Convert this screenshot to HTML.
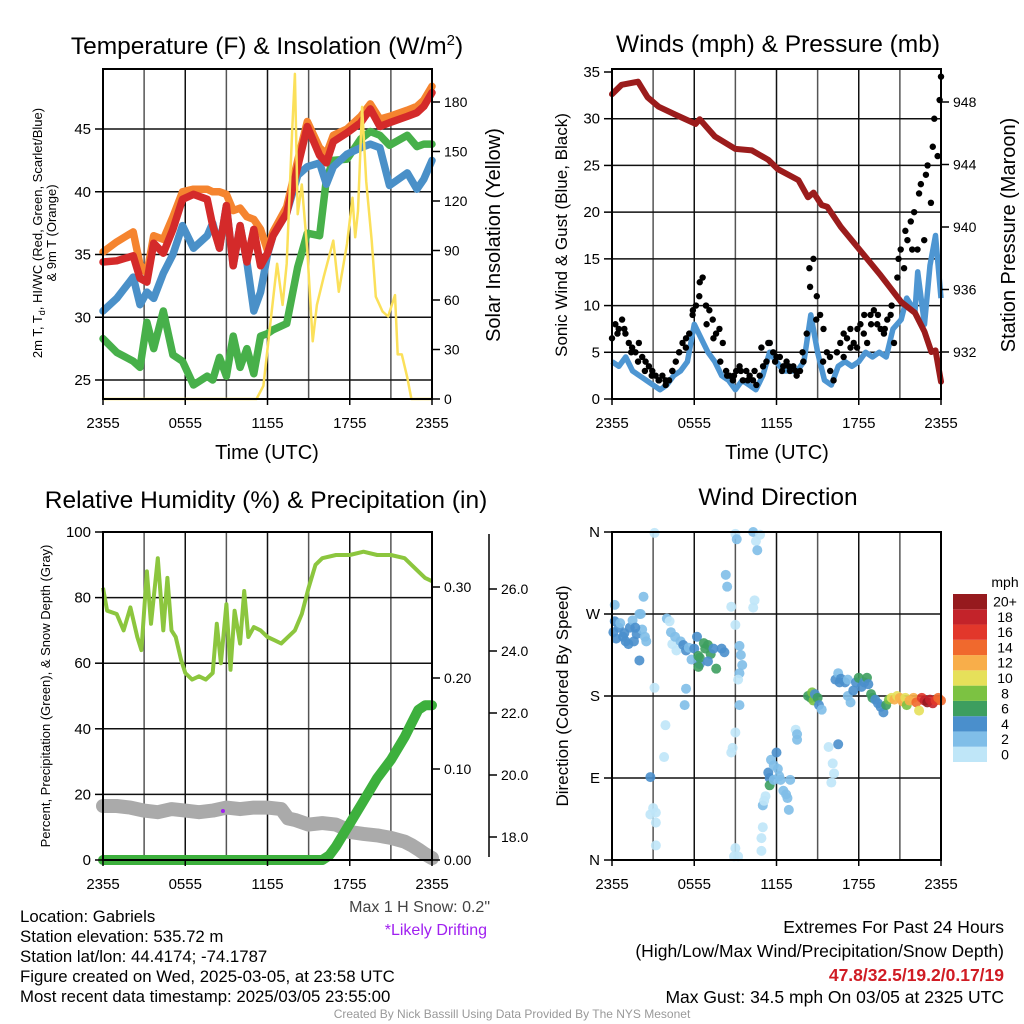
<!DOCTYPE html>
<html><head><meta charset="utf-8"><style>
body{margin:0;background:#fff}
svg{display:block;font-family:"Liberation Sans",Arial,sans-serif}
</style></head><body>
<svg id="s" width="1024" height="1024" viewBox="0 0 1024 1024" xmlns="http://www.w3.org/2000/svg">
<rect width="1024" height="1024" fill="#fff"/>
<g id="grid"></g><g id="marks"></g><g id="axes"></g>
<g id="txt" fill="#000">
<text x="267" y="54" font-size="24.5" text-anchor="middle">Temperature (F) &amp; Insolation (W/m<tspan font-size="15" dy="-9">2</tspan><tspan dy="9">)</tspan></text>
<text x="778" y="52" font-size="24.5" text-anchor="middle">Winds (mph) &amp; Pressure (mb)</text>
<text x="266" y="508" font-size="24.5" text-anchor="middle">Relative Humidity (%) &amp; Precipitation (in)</text>
<text x="778" y="505" font-size="24.5" text-anchor="middle">Wind Direction</text>
<text transform="translate(42,233) rotate(-90)" font-size="13" text-anchor="middle">2m T, T<tspan font-size="9" dy="3">d</tspan><tspan dy="-3">, HI/WC (Red, Green, Scarlet/Blue)</tspan></text>
<text transform="translate(56,233) rotate(-90)" font-size="13" text-anchor="middle">&amp; 9m T (Orange)</text>
<text transform="translate(500,235) rotate(-90)" font-size="20" text-anchor="middle">Solar Insolation (Yellow)</text>
<text transform="translate(567,235) rotate(-90)" font-size="17" text-anchor="middle">Sonic Wind &amp; Gust (Blue, Black)</text>
<text transform="translate(1015,235) rotate(-90)" font-size="20" text-anchor="middle">Station Pressure (Maroon)</text>
<text transform="translate(50,696) rotate(-90)" font-size="13" text-anchor="middle">Percent, Precipitation (Green), &amp; Snow Depth (Gray)</text>
<text transform="translate(568,696) rotate(-90)" font-size="17" text-anchor="middle">Direction (Colored By Speed)</text>
<text x="267" y="459" font-size="20" text-anchor="middle">Time (UTC)</text>
<text x="777" y="459" font-size="20" text-anchor="middle">Time (UTC)</text>
<text x="490" y="912" font-size="16" fill="#444" text-anchor="end">Max 1 H Snow: 0.2"</text>
<text x="487" y="935" font-size="16" fill="#a020f0" text-anchor="end">*Likely Drifting</text>
<g font-size="16.8">
<text x="20" y="922">Location: Gabriels</text>
<text x="20" y="942">Station elevation: 535.72 m</text>
<text x="20" y="962">Station lat/lon: 44.4174; -74.1787</text>
<text x="20" y="982">Figure created on Wed, 2025-03-05, at 23:58 UTC</text>
<text x="20" y="1002">Most recent data timestamp: 2025/03/05 23:55:00</text>
</g>
<g font-size="17.5" text-anchor="end">
<text x="1004" y="933">Extremes For Past 24 Hours</text>
<text x="1004" y="957">(High/Low/Max Wind/Precipitation/Snow Depth)</text>
<text x="1004" y="981" fill="#d01c24" font-weight="bold">47.8/32.5/19.2/0.17/19</text>
<text x="1004" y="1003">Max Gust: 34.5 mph On 03/05 at 2325 UTC</text>
</g>
<text x="512" y="1018" font-size="12" fill="#999" text-anchor="middle">Created By Nick Bassill Using Data Provided By The NYS Mesonet</text>
<text x="1005" y="587" font-size="14" text-anchor="middle">mph</text>
</g>
</svg>
<script>
// ---- data ----
const xTickLabels = ["2355","0555","1155","1755","2355"];
const tempTicks = [25,30,35,40,45];
const solarTicks = [0,30,60,90,120,150,180];
const windTicks = [0,5,10,15,20,25,30,35];
const presTicks = [932,936,940,944,948];
const rhTicks = [0,20,40,60,80,100];
const precipTicks = [0.00,0.10,0.20,0.30];
const snowTicks = [18,20,22,24,26];
const dirTicks = ["N","E","S","W","N"];
const speedBins = ["0","2","4","6","8","10","12","14","16","18","20+"];
const speedColors = ["#bfe6f8","#80bee8","#4a8fcc","#3d9e5f","#7cc242","#e6e05a","#f8ae4a","#f0692d","#e2372b","#c3232a","#961a1e"];

const tT = [0,1,2.2,2.7,3.2,3.7,4.4,5.1,5.8,6.6,7.6,8.0,8.5,9.0,9.5,10.0,10.5,11.0,11.5,12.0,12.4,13.4,14.2,14.9,15.8,16.3,16.8,17.8,18.8,19.5,20.2,20.9,22.2,22.9,23.4,24];
const tRed = [34.4,34.5,34.9,33.1,32.8,35.9,35.1,37,39.4,39.8,39.4,37.3,35.5,38.9,34.1,37.3,34.4,37,34.1,35.1,36.5,38.3,42,45.2,42.9,42.3,44,44.7,45.5,46.6,45.2,45.5,46,46.3,46.8,47.9];
const tOrange = [35.2,36,36.8,34.2,33.5,36.5,36.2,38,40,40.2,40.2,40,40,39.8,38.5,38.7,38,37.8,37,35.3,36.8,38.8,42.5,45.6,43.5,43,44.5,45,46,47,45.8,46,46.5,46.8,47.3,48.4];
const tBlue = [30.5,31.5,33.2,31,32,31.5,33.5,35,37.3,35.5,36.5,37.5,35.5,38.9,34.1,37.3,34.4,30.5,32,35,36.5,38.3,41.3,42,42.3,40.6,42,43,43.5,43.8,43.5,40.5,41.5,40.2,41,42.5];
const tGreen = [28.3,27.2,26.5,26,29.6,27.5,30.5,27,26.5,24.6,25.3,25,26.8,25.3,28.5,26,27.5,25.5,28.5,28.7,29,29.5,34,36.7,36.5,41,42.5,42.6,44.2,44.8,44.5,43.7,44.5,43.6,43.8,43.8];
const solT = [0,11.2,11.7,12.2,12.7,13.1,13.4,13.8,14.0,14.2,14.5,14.9,15.3,15.6,16.1,16.8,17.2,17.8,18.2,18.4,18.6,18.9,19.2,19.6,19.9,20.4,20.8,21.3,21.5,21.8,22.2,22.5,24];
const solar = [0,0,8,45,82,57,82,163,197,112,130,90,35,57,74,96,65,94,122,98,114,177,132,96,62,53,50,63,27,27,13,0,0];

const presT = [0,0.7,1.9,2.6,3.4,4.6,6.1,6.4,7.5,9.0,10.2,11.4,12.1,13.6,14.3,14.7,15.3,15.7,16.7,18.2,19.6,21.1,22.1,22.8,23.3,23.6,24];
const pressure = [948.5,949.1,949.3,948.3,947.7,947.2,946.6,946.9,945.8,945,944.9,944.3,943.7,943.0,941.9,942.2,941.4,941.3,940,938.4,936.9,935.2,934.5,933.3,932,932.1,930.1];
const windT = [0,0.5,1,1.5,2,2.5,3,3.5,4,4.5,5,5.5,6,6.5,7,7.5,8,8.5,9,9.5,10,10.5,11,11.5,12,12.5,13,13.5,14,14.5,15,15.5,16,16.5,17,17.5,18,18.5,19,19.5,20,20.5,21.1,21.5,22.1,22.3,22.8,23.2,23.6,24];
const wind = [4,3.5,4.5,3,2.5,2,1.5,1,1.5,2.5,3,4,8,6.5,5,4,2.5,2,1,2,1.5,1,2.5,5,4,3,3,3,4,9,5,2,1.5,3.5,4,3.5,4,5,4.5,5,4.5,7.5,8.5,10.8,9.4,13.6,8,14.3,17.5,10.8];
const gust = [6.5,8,7.5,8.5,7,6,5.5,5,6,4.5,4,3.5,3,2.5,2,2.5,1.5,2,3,4,5,6,5.5,7,9,10,11,13,10,9.5,8.5,7,7.5,6,3,2.5,2,3,3.5,2,3,2.5,2,1.5,2.5,3.5,4,6,5,4.5,4.5,3.5,4,3,3.5,2.5,3,4,7,12,15,11,9,7.5,5,3,2,5,6,4.5,6.5,7.5,6,5.5,8,7,6,9,9.5,8,7.5,7,8.5,9,6,13,16,14,17,19,20,16,23,17,25,21,30,26,34.5];
const gust2T = [0.4,0.9,1.4,1.9,2.4,2.9,3.4,3.9,4.4,4.9,5.4,5.9,6.4,6.9,7.4,7.9,8.4,8.9,9.4,9.9,10.4,10.9,11.4,11.9,12.4,12.9,13.4,13.9,14.4,14.9,15.4,15.9,16.4,16.9,17.4,17.9,18.4,18.9,19.4,19.9,20.4,20.9,21.4,21.9,22.4,22.9,23.4,23.9];
const gust2 = [7,7.5,5,4,3,2.5,2,2,3,5,6.5,9.5,12.5,8,6.5,4,2.5,2.5,3,2,3,5.5,6,4,3,3.5,3,5,14,8.5,4,4.5,5,7,5.5,7.5,9,8,9,7.5,10,15,18,16,22,24,27,32];

const rhT = [0,0.3,1,1.5,2,2.5,2.8,3.2,3.5,4,4.4,4.7,5,5.3,5.7,6,6.5,7,7.5,8,8.3,8.6,9,9.3,9.6,10,10.3,10.6,11,11.5,12,12.5,13,14,14.5,15,15.5,16,17,18,19,20,21,22,23,23.5,24];
const rh = [83,76,75,70,77,68,64,88,72,92,70,86,70,68,61,57,55,56,55,57,72,60,78,58,76,66,82,68,71,70,68,67,66,70,75,83,90,92,93,93,94,93,93,92,88,86,85];
const precipT = [0,16,16.5,17,18,19,20,21,22,22.5,23,23.5,24];
const precip = [0,0,0.005,0.015,0.04,0.065,0.09,0.11,0.135,0.15,0.165,0.17,0.17];
const snowT = [0,1,2,3,4,5,6,7,8,9,10,11,12,13,13.5,14,15,16,17,17.5,18,19,20,21,22,22.5,23,23.5,24];
const snow = [19.0,19.0,18.95,18.85,18.8,18.9,18.85,18.8,18.85,18.95,18.9,18.95,18.95,18.9,18.6,18.55,18.4,18.45,18.4,18.3,18.16,18.1,18.05,17.97,17.85,17.74,17.6,17.45,17.32];
const driftT = [8.75];
const drift = [18.84];

const dirT = [0.1,0.2,0.3,0.5,0.6,0.8,0.9,1.0,1.2,1.3,1.5,1.6,1.8,2.0,2.2,2.3,2.4,2.5,2.1,1.7,0.2,2.0,3.1,3.9,3.8,2.8,2.8,3.0,3.2,3.2,3.2,3.1,4.0,4.2,4.3,4.4,4.6,4.7,5.0,5.2,5.4,5.6,5.8,6.0,6.2,6.3,6.4,6.7,6.8,7.0,7.2,7.4,7.6,6.4,7.0,8.0,8.2,5.4,5.3,6.3,8.3,8.4,8.7,9.0,9.3,9.4,9.5,9.3,9.2,9.3,9.0,8.8,8.7,9.0,9.1,10.3,10.5,10.6,10.8,9.0,8.9,9.2,10.4,10.3,10.9,11.0,10.9,11.0,11.1,11.2,11.4,11.5,11.5,11.6,11.8,11.8,12.0,12.1,12.2,12.3,12.5,12.7,12.8,12.9,13.0,13.4,13.5,13.5,15.8,16.5,16.1,16.2,16.0,14.3,14.5,14.6,14.7,14.8,15.0,15.1,15.3,16.3,16.5,16.6,16.7,17.0,17.2,17.2,17.4,17.6,17.8,18.0,18.2,18.4,18.6,18.7,18.9,19.0,19.2,19.4,19.6,19.8,20.0,20.2,20.4,20.6,20.8,21.0,21.2,21.4,21.5,21.7,22.0,22.2,22.4,22.6,22.8,23.0,23.2,23.4,23.6,23.8,24.0];
const dirDeg = [250,262,243,255,260,245,249,240,237,255,263,240,248,270,253,289,245,240,270,255,280,219,189,148,113,91,50,57,52,41,16,359,265,262,250,237,245,230,240,236,230,233,220,232,245,224,215,238,232,236,226,232,210,222,218,232,228,188,170,212,313,300,278,258,235,225,214,205,198,170,140,123,118,358,352,360,350,340,357,13,4,4,285,277,24,36,10,60,65,70,96,90,82,110,104,88,118,100,92,88,76,72,68,55,88,143,138,132,124,127,106,95,85,180,178,184,175,182,178,170,165,198,205,195,199,195,198,180,173,186,195,200,190,195,200,193,182,178,176,172,168,162,170,176,178,176,180,178,174,178,170,175,178,173,164,178,175,173,176,172,175,178,175];
const dirSpd = [4,4,5,4,3,4,5,4,5,4,3,4,4,3,3,3,3,3,3,5,3,4,1,1,0,4,0,0,1,1,1,1,2,1,3,1,3,1,3,4,4,3,3,5,4,6,5,6,6,6,6,4,6,7,4,4,4,3,3,6,2,2,0,1,2,2,2,2,1,3,1,1,1,0,3,3,0,2,0,0,0,0,0,0,0,0,1,2,1,0,4,4,6,3,3,3,4,3,3,2,2,3,2,2,2,0,2,2,0,4,0,0,0,6,7,8,8,5,6,4,3,4,2,4,4,4,3,2,2,4,5,6,5,4,6,5,6,6,4,5,4,4,6,8,10,12,11,12,13,10,8,13,12,14,10,16,18,20,18,19,17,14,14];

// ---- helpers ----
const NS="http://www.w3.org/2000/svg";
const G=document.getElementById('grid'),M=document.getElementById('marks'),A=document.getElementById('axes');
function mk(tag,attrs,parent){const e=document.createElementNS(NS,tag);for(const k in attrs)e.setAttribute(k,attrs[k]);parent.appendChild(e);return e;}
function lin(d0,d1,r0,r1){return v=>r0+(v-d0)*(r1-r0)/(d1-d0);}
function path(ts,vs,sx,sy){return ts.map((t,i)=>(i?'L':'M')+sx(t).toFixed(1)+','+sy(vs[i]).toFixed(1)).join('');}

const panels=[{x0:103,x1:432,y0:69,y1:399},{x0:612,x1:941,y0:69,y1:399},{x0:103,x1:432,y0:532,y1:860},{x0:612,x1:941,y0:532,y1:860}];
const sxs=panels.map(p=>lin(0,24,p.x0,p.x1));

panels.forEach((p,pi)=>{
  const sx=sxs[pi];
  for(let h=3;h<24;h+=3){
    const l=mk('line',{x1:sx(h),x2:sx(h),y1:p.y0,y2:p.y1,stroke:h%6?'#555':'#111','stroke-width':1.5},G);
    
    
  }
  const f=mk('rect',{x:p.x0,y:p.y0,width:p.x1-p.x0,height:p.y1-p.y0,fill:'none',stroke:'#000','stroke-width':2},A);
  
  
  xTickLabels.forEach((lab,i)=>{
    const x=sx(i*6);
    mk('line',{x1:x,x2:x,y1:p.y1,y2:p.y1+6,stroke:'#000','stroke-width':1.5},A);
    const t=mk('text',{x:x,y:p.y1+29,'font-size':15,'text-anchor':'middle'},A);
    t.textContent=lab;
    
    
  });
});
function hgrid(p,y,col){const l=mk('line',{x1:p.x0,x2:p.x1,y1:y,y2:y,stroke:col||'#111','stroke-width':1.5},G);}
function ytick(x,y,lab,side,fs,name){
  mk('line',{x1:x,x2:x+(side<0?-8:8),y1:y,y2:y,stroke:'#000','stroke-width':1.5},A);
  const t=mk('text',{x:x+(side<0?-12:12),y:y+5,'font-size':fs||15,'text-anchor':side<0?'end':'start'},A);
  t.textContent=lab;
  
  
}

// ---- panel 1 ----
{const p=panels[0],sx=sxs[0];
 const sy=lin(25,45,380,129), ss=lin(0,180,399,102);
 tempTicks.forEach(v=>{hgrid(p,sy(v));ytick(p.x0,sy(v),v,-1,15,'temp-tick-label');});
 solarTicks.forEach(v=>ytick(p.x1,ss(v),v,1,14,'solar-tick-label'));
 const series=[[tGreen,'#47b04a','dewpoint-line'],[tBlue,'#4a90c8','heat-index-line'],[tOrange,'#f5842f','temp-9m-line'],[tRed,'#d42a2a','temp-2m-line']];
 series.forEach(s=>{const e=mk('path',{d:path(tT,s[0],sx,sy),fill:'none',stroke:s[1],'stroke-width':7.5,'stroke-linejoin':'round','stroke-linecap':'round'},M);
   
   });
 const y=mk('path',{d:path(solT,solar,sx,ss),fill:'none',stroke:'#fbe05a','stroke-width':2.5,'stroke-linejoin':'round'},M);
 
 
}
// ---- panel 2 ----
{const p=panels[1],sx=sxs[1];
 const sy=lin(0,35,399,72), sp=lin(932,948,352,102);
 windTicks.forEach(v=>{if(v>0&&v<35)hgrid(p,sy(v));ytick(p.x0,sy(v),v,-1,15,'wind-tick-label');});
 presTicks.forEach(v=>ytick(p.x1,sp(v),v,1,14,'pressure-tick-label'));
 const w=mk('path',{d:path(windT,wind,sx,sy),fill:'none',stroke:'#4e96d2','stroke-width':5.5,'stroke-linejoin':'round'},M);
 
 
 gust.forEach((g,i)=>{const c=mk('circle',{cx:sx(i*24/(gust.length-1)),cy:sy(g),r:3.2,fill:'#000'},M);
   
   });
 gust2T.forEach((t,i)=>{const c=mk('circle',{cx:sx(t),cy:sy(gust2[i]),r:3.2,fill:'#000'},M);
   
   });
 const pr=mk('path',{d:path(presT,pressure,sx,sp),fill:'none',stroke:'#9b1c1c','stroke-width':6,'stroke-linejoin':'round','stroke-linecap':'round'},M);
 
 
}
// ---- panel 3 ----
{const p=panels[2],sx=sxs[2];
 const sy=lin(0,100,860,532), spc=lin(0,0.3,860,587), ssn=lin(18,26,837,589);
 rhTicks.forEach(v=>{if(v>0&&v<100)hgrid(p,sy(v));ytick(p.x0,sy(v),v,-1,15,'rh-tick-label');});
 precipTicks.forEach(v=>ytick(p.x1,spc(v),v.toFixed(2),1,14,'precip-tick-label'));
 const ax=mk('line',{x1:489,x2:489,y1:534,y2:857,stroke:'#000','stroke-width':1.5},A);
 
 
 snowTicks.forEach(v=>ytick(489,ssn(v),v.toFixed(1),1,14,'snow-tick-label'));
 const sn=mk('path',{d:path(snowT,snow,sx,ssn),fill:'none',stroke:'#aaaaaa','stroke-width':14,'stroke-linejoin':'round','stroke-linecap':'round'},M);
 
 
 const pc=mk('path',{d:path(precipT,precip,sx,spc),fill:'none',stroke:'#3db03d','stroke-width':10,'stroke-linejoin':'round','stroke-linecap':'round'},M);
 
 
 const r=mk('path',{d:path(rhT,rh,sx,sy),fill:'none',stroke:'#8cc63e','stroke-width':4,'stroke-linejoin':'round'},M);
 
 
 driftT.forEach((t,i)=>{const c=mk('circle',{cx:sx(t),cy:ssn(drift[i]),r:2,fill:'#a020f0'},M);
   
   });
}
// ---- panel 4 ----
{const p=panels[3],sx=sxs[3];
 const sy=lin(0,360,860,532);
 dirTicks.forEach((lab,i)=>{const y=sy(i*90);if(i>0&&i<4)hgrid(p,y);ytick(p.x0,y,lab,-1,15,'direction-tick-label');});
 dirT.forEach((t,i)=>{const c=mk('circle',{cx:sx(t),cy:sy(dirDeg[i]),r:5,fill:speedColors[Math.min(10,Math.floor(dirSpd[i]/2))],'fill-opacity':0.9},M);
   
   });
 const h=168/speedBins.length;
 speedBins.forEach((lab,i)=>{const y=762-(i+1)*h;
   const r=mk('rect',{x:953,y:y,width:34,height:h,fill:speedColors[i]},A);
   
   
   const t=mk('text',{x:1005,y:y+h/2+5,'font-size':14,'text-anchor':'middle'},A);
   t.textContent=lab;
   
   });
}
</script>
</body></html>
